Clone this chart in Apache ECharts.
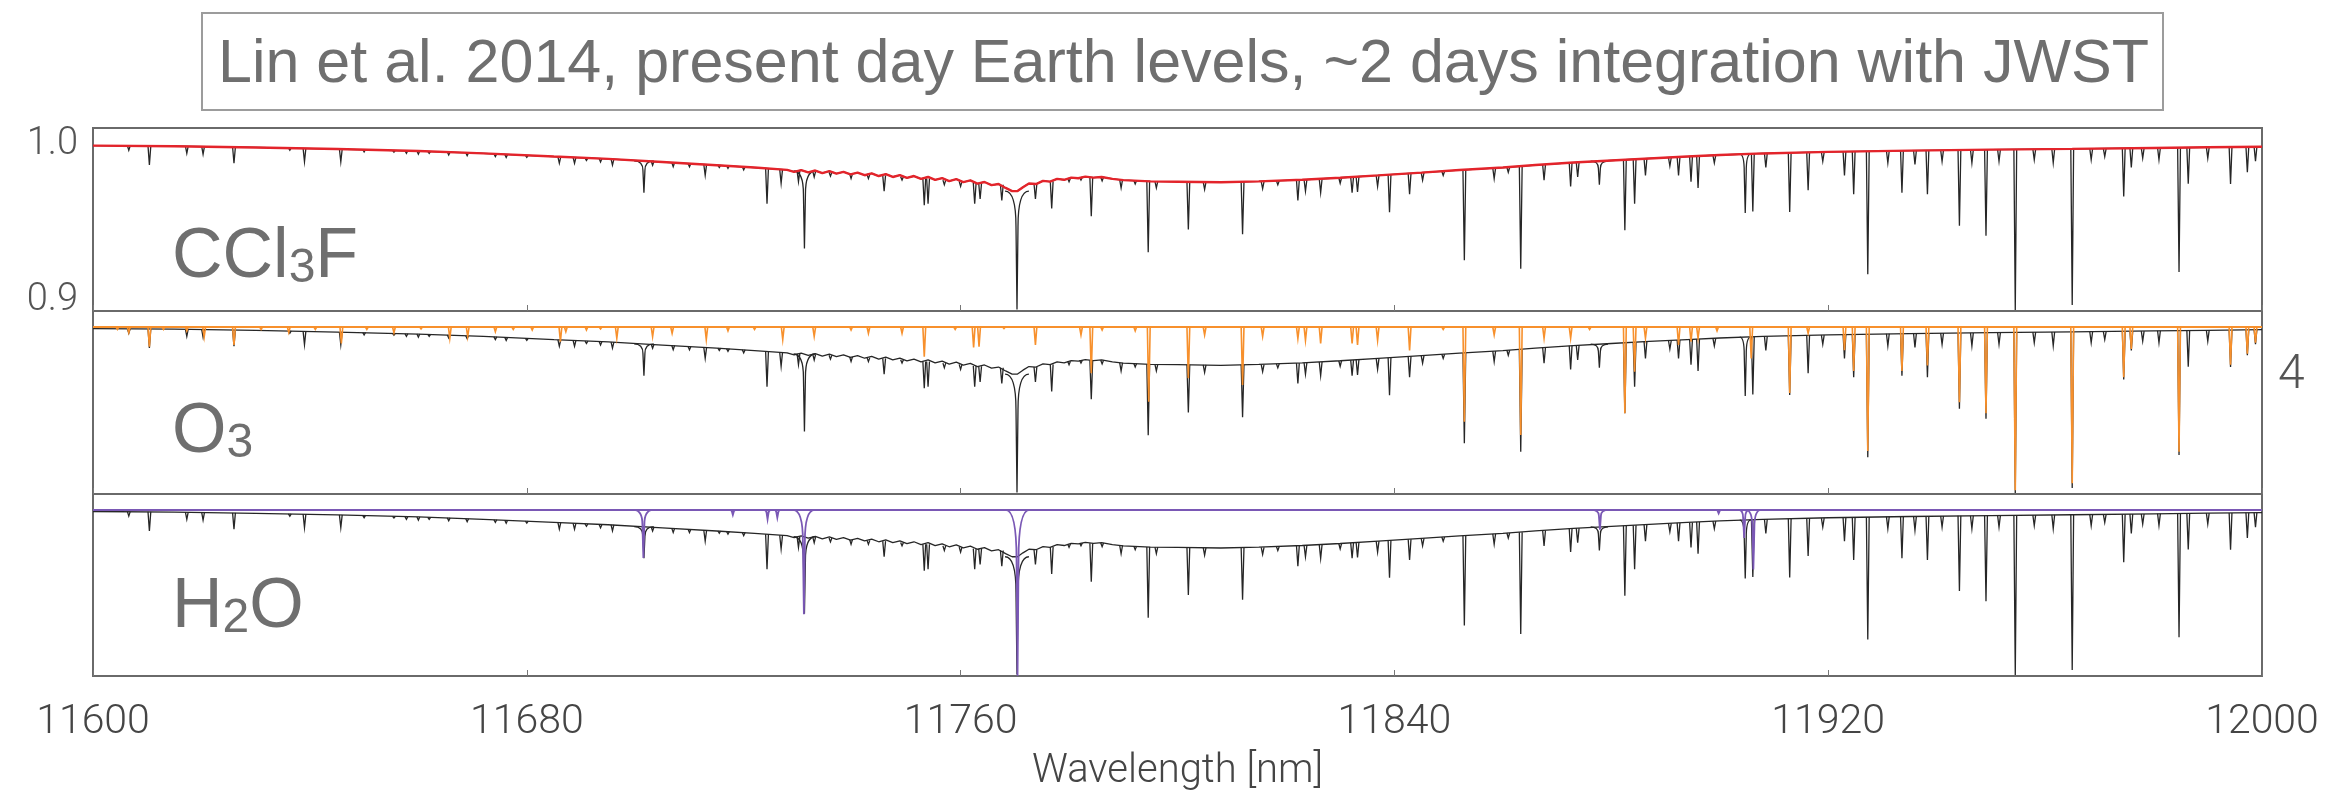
<!DOCTYPE html>
<html><head><meta charset="utf-8">
<script src="https://cdn.jsdelivr.net/npm/echarts@6/dist/echarts.min.js"></script>
<style>html,body{margin:0;padding:0;background:#fff}#c{width:2347px;height:793px}</style>
</head><body><div id="c"></div>
<script>
// ---------------- data ----------------
const titleText = 'Lin et al. 2014, present day Earth levels, ~2 days integration with JWST';
const xTicks = [11600, 11680, 11760, 11840, 11920, 12000];
const yTickLabels = [0.9, 1.0];
const xRange = [11600, 12000];
const yRange = [0.8936, 1.0102];
const figureNumber = '4';

// smooth continuum (CCl3F band shape, also the base of the total spectrum)
const continuum = [
[11600,0.9990],[11615,0.9986],[11630,0.9978],[11645,0.9968],[11660,0.9955],[11672,0.9940],
[11685,0.9920],[11695,0.9905],[11705,0.9885],[11715,0.9865],[11722,0.9850],[11728.0,0.9835],
[11729.3,0.9822],[11730.6,0.9834],[11731.9,0.9819],[11733.2,0.9831],[11734.5,0.9815],[11735.8,0.9827],
[11737.1,0.9811],[11738.4,0.9823],[11739.7,0.9806],[11741.0,0.9818],[11742.3,0.9801],[11743.6,0.9813],
[11744.9,0.9796],[11746.2,0.9808],[11747.5,0.9790],[11748.8,0.9802],[11750.1,0.9784],[11751.4,0.9796],
[11752.7,0.9778],[11754.0,0.9790],[11755.3,0.9771],[11756.6,0.9783],[11757.9,0.9764],[11759.2,0.9776],
[11760.5,0.9757],[11761.8,0.9768],[11763.1,0.9748],[11764.4,0.9758],[11765.7,0.9738],[11767.0,0.9745],
[11768.3,0.9720],[11769.5,0.9700],[11770.5,0.9700],[11771.5,0.9725],[11772.6,0.9748],[11773.9,0.9745],
[11775.2,0.9765],[11776.5,0.9760],[11777.8,0.9778],[11779.1,0.9772],[11780.4,0.9786],[11781.7,0.9782],
[11783.0,0.9792],[11784.5,0.9786],[11786.0,0.9790],[11788.0,0.9778],[11790.0,0.9770],[11795,0.9762],
[11800,0.9760],[11808,0.9756],[11815,0.9762],[11823,0.9772],[11830,0.9785],[11837,0.9800],
[11845,0.9818],[11852,0.9834],[11860,0.9850],[11866,0.9866],[11873,0.9882],[11880,0.9895],
[11887,0.9908],[11894,0.9920],[11900,0.9930],[11908,0.9940],[11920,0.9950],[11935,0.9958],
[11950,0.9964],[11965,0.9969],[11980,0.9975],[11990,0.9979],[12000,0.9983]
];

// narrow absorption lines of the total spectrum: [wavelength, continuum at line, line bottom]
const blackLines = [
[11606.6,0.9989,0.9960],[11610.4,0.9988,0.9866],[11617.3,0.9986,0.9940],[11620.3,0.9985,0.9935],
[11626.0,0.9981,0.9877],[11636.3,0.9975,0.9960],[11639.0,0.9974,0.9887],[11645.7,0.9968,0.9887],
[11650.0,0.9965,0.9950],[11655.5,0.9959,0.9948],[11657.8,0.9957,0.9940],[11660.0,0.9955,0.9935],
[11662.0,0.9953,0.9940],[11665.6,0.9949,0.9930],[11669.0,0.9944,0.9925],[11674.2,0.9937,0.9920],
[11676.2,0.9934,0.9915],[11680.0,0.9928,0.9915],[11686.0,0.9918,0.9877],[11688.8,0.9914,0.9877],
[11691.0,0.9910,0.9895],[11693.6,0.9907,0.9885],[11695.8,0.9904,0.9866],[11703.2,0.9890,0.9865],
[11707.0,0.9882,0.9855],[11710.0,0.9876,0.9855],[11712.9,0.9870,0.9800],[11715.5,0.9865,0.9850],
[11717.1,0.9862,0.9845],[11720.0,0.9855,0.9835],[11724.3,0.9845,0.9620],[11726.9,0.9838,0.9750],
[11730.1,0.9830,0.9760],[11733.0,0.9826,0.9790],[11736.0,0.9820,0.9795],[11739.8,0.9810,0.9780],
[11743.0,0.9805,0.9780],[11745.9,0.9800,0.9700],[11749.2,0.9792,0.9770],[11753.3,0.9780,0.9610],
[11754.0,0.9780,0.9620],[11757.0,0.9770,0.9740],[11760.0,0.9762,0.9730],[11762.6,0.9752,0.9620],
[11763.6,0.9750,0.9650],[11767.6,0.9740,0.9640],[11773.8,0.9745,0.9650],[11776.8,0.9762,0.9590],
[11780.0,0.9782,0.9760],[11782.2,0.9788,0.9770],[11784.1,0.9787,0.9540],[11786.1,0.9788,0.9765],
[11789.6,0.9772,0.9720],[11792.2,0.9768,0.9745],[11794.6,0.9763,0.9310],[11796.1,0.9762,0.9720],
[11802.0,0.9759,0.9455],[11805.0,0.9758,0.9710],[11812.0,0.9758,0.9425],[11815.7,0.9760,0.9715],
[11818.5,0.9765,0.9740],[11822.2,0.9770,0.9640],[11823.6,0.9772,0.9700],[11826.4,0.9777,0.9690],
[11830.0,0.9785,0.9750],[11832.2,0.9789,0.9690],[11833.2,0.9791,0.9695],[11836.9,0.9800,0.9730],
[11839.1,0.9804,0.9565],[11842.8,0.9812,0.9680],[11845.2,0.9818,0.9770],[11849.0,0.9826,0.9800],
[11852.9,0.9834,0.9260],[11858.4,0.9846,0.9780],[11861.0,0.9852,0.9820],[11863.3,0.9857,0.9205],
[11867.6,0.9868,0.9770],[11872.5,0.9881,0.9730],[11873.8,0.9883,0.9790],[11882.5,0.9899,0.9450],
[11884.3,0.9902,0.9620],[11886.3,0.9906,0.9800],[11890.8,0.9914,0.9860],[11892.4,0.9917,0.9800],
[11894.7,0.9920,0.9760],[11896.0,0.9922,0.9720],[11899.0,0.9928,0.9880],[11906.1,0.9937,0.9570],
[11908.5,0.9940,0.9850],[11912.9,0.9944,0.9567],[11916.3,0.9946,0.9705],[11919.0,0.9948,0.9890],
[11923.0,0.9952,0.9800],[11924.7,0.9953,0.9680],[11927.3,0.9955,0.9170],[11931.0,0.9957,0.9880],
[11933.6,0.9958,0.9690],[11936.0,0.9959,0.9870],[11938.3,0.9960,0.9680],[11941.0,0.9961,0.9890],
[11944.2,0.9962,0.9480],[11946.5,0.9963,0.9880],[11949.1,0.9964,0.9415],[11951.5,0.9965,0.9890],
[11954.5,0.9966,0.8942],[11958.0,0.9967,0.9900],[11961.5,0.9968,0.9880],[11965.0,0.9969,0.8975],
[11968.5,0.9970,0.9900],[11971.0,0.9971,0.9920],[11974.5,0.9972,0.9665],[11975.9,0.9973,0.9850],
[11978.0,0.9974,0.9910],[11981.0,0.9976,0.9900],[11984.7,0.9977,0.9185],[11986.4,0.9978,0.9747],
[11990.0,0.9979,0.9910],[11994.2,0.9980,0.9745],[11997.3,0.9982,0.9820],[11998.8,0.9983,0.9890]
];

// broad (pressure-broadened) features of the total spectrum: [wavelength, continuum, bottom, half width nm]
const blackBroad = [
[11701.6,0.9893,0.9690,1.8],[11731.2,0.9828,0.9335,2.0],[11770.4,0.9700,0.8945,2.2],
[11877.8,0.9891,0.9740,1.6],[11904.7,0.9935,0.9560,1.0]
];

// O3 contribution: flat level and lines [wavelength, bottom]
const o3Level = 1.0;
const o3Lines = [
[11604.5,0.9985],[11606.6,0.9965],[11610.4,0.9875],[11613.0,0.9985],[11617.3,0.9975],[11620.5,0.9935],
[11626.0,0.9885],[11631.0,0.9985],[11636.1,0.9965],[11641.0,0.9985],[11645.8,0.9896],[11650.5,0.9985],
[11655.5,0.9963],[11660.5,0.9988],[11665.8,0.9928],[11669.1,0.9938],[11674.2,0.9970],[11677.5,0.9985],
[11681.0,0.9980],[11686.2,0.9907],[11687.2,0.9970],[11691.0,0.9980],[11693.6,0.9988],[11696.6,0.9928],
[11703.2,0.9938],[11706.8,0.9960],[11713.1,0.9920],[11717.1,0.9975],[11722.0,0.9985],[11727.2,0.9920],
[11733.0,0.9940],[11739.8,0.9980],[11743.0,0.9960],[11749.2,0.9960],[11753.3,0.9810],[11759.0,0.9985],
[11762.4,0.9870],[11763.4,0.9875],[11768.0,0.9990],[11773.8,0.9885],[11782.2,0.9950],[11784.1,0.9705],
[11786.1,0.9980],[11792.2,0.9975],[11794.7,0.9524],[11802.0,0.9673],[11805.0,0.9950],[11812.0,0.9630],
[11815.7,0.9940],[11822.2,0.9926],[11823.6,0.9915],[11826.4,0.9896],[11832.2,0.9896],[11833.2,0.9885],
[11836.9,0.9915],[11842.8,0.9850],[11849.0,0.9985],[11852.9,0.9397],[11858.4,0.9950],[11863.3,0.9312],
[11867.6,0.9928],[11872.5,0.9928],[11876.0,0.9985],[11882.5,0.9450],[11884.3,0.9715],[11886.3,0.9928],
[11892.4,0.9885],[11894.7,0.9907],[11896.0,0.9928],[11899.5,0.9975],[11905.8,0.9800],[11912.9,0.9580],
[11916.3,0.9960],[11923.0,0.9853],[11924.7,0.9720],[11927.3,0.9210],[11933.6,0.9720],[11938.3,0.9755],
[11944.2,0.9520],[11949.1,0.9450],[11954.5,0.8960],[11965.0,0.9005],[11974.5,0.9680],[11975.9,0.9860],
[11984.7,0.9205],[11994.2,0.9760],[11997.3,0.9830],[11998.8,0.9900]
];

// H2O contribution: flat level and lines [wavelength, bottom, half width nm]
const h2oLevel = 1.0;
const h2oLines = [
[11701.5,0.9692,1.8],[11718.0,0.9968,0.8],[11724.4,0.9940,0.8],[11726.2,0.9950,0.8],
[11731.1,0.9331,2.0],[11770.5,0.8938,2.2],[11877.9,0.9873,1.6],[11899.8,0.9978,0.8],
[11904.5,0.9820,1.0],[11906.2,0.9618,1.4]
];

// ---------------- chart ----------------
const chart = echarts.init(document.getElementById('c'), null, {renderer: 'canvas', width: 2347, height: 793});

const COL = {black: '#262626', red: '#e3242b', orange: '#f7902c', purple: '#7a58b5', text: '#6f6f6f', axis: '#454545'};

function narrowItem(color, width, level) {
  return function (params, api) {
    const x = api.value(0);
    const top = level == null ? api.value(1) : level;
    const bot = level == null ? api.value(2) : api.value(1);
    const pT = api.coord([x, top]), pB = api.coord([x, bot]);
    const hw = 1.4;
    return {type: 'polyline', shape: {points: [[pT[0] - hw, pT[1]], [pB[0], pB[1]], [pT[0] + hw, pT[1]]]},
      style: {stroke: color, lineWidth: width, fill: null}};
  };
}
function broadItem(color, width, level) {
  return function (params, api) {
    const x = api.value(0);
    const top = level == null ? api.value(1) : level;
    const bot = level == null ? api.value(2) : api.value(1);
    const hwNm = level == null ? api.value(3) : api.value(2);
    const pT = api.coord([x, top]), pB = api.coord([x, bot]);
    const W = api.coord([x + hwNm, top])[0] - pT[0];
    const c = 1.0;
    const yM = pT[1] + 0.3 * (pB[1] - pT[1]);
    const d = 'M' + (pT[0] - W) + ' ' + pT[1] + ' Q' + (pT[0] - c) + ' ' + pT[1] + ' ' + (pT[0] - c) + ' ' + yM +
      ' L' + pB[0] + ' ' + pB[1] + ' L' + (pT[0] + c) + ' ' + yM + ' Q' + (pT[0] + c) + ' ' + pT[1] + ' ' + (pT[0] + W) + ' ' + pT[1];
    return {type: 'path', shape: {pathData: d}, style: {stroke: color, lineWidth: width, fill: null}};
  };
}

const grids = [0, 1, 2].map(i => ({left: 93, top: 128 + 183 * i, width: 2169, height: 183, show: true,
  borderColor: '#6a6a6a', borderWidth: 2, backgroundColor: '#fff'}));

const xAxes = [0, 1, 2].map(i => ({
  type: 'value', gridIndex: i, min: xRange[0], max: xRange[1], interval: xTicks[1] - xTicks[0],
  axisLine: {show: false}, splitLine: {show: false},
  axisTick: {show: true, inside: true, length: 6, lineStyle: {color: '#777'}},
  axisLabel: {show: i === 2, margin: 26, fontSize: 41, color: COL.axis, fontFamily: 'Roboto', fontWeight: 300,
    formatter: v => String(v)},
  name: i === 2 ? 'Wavelength [nm]' : '', nameLocation: 'middle', nameGap: 76,
  nameTextStyle: {fontSize: 40, color: COL.axis, fontFamily: 'Roboto', fontWeight: 300}
}));
const yAxes = [0, 1, 2].map(i => ({
  type: 'value', gridIndex: i, min: yRange[0], max: yRange[1],
  axisLine: {show: false}, splitLine: {show: false}, axisTick: {show: false},
  axisLabel: {show: i === 0, customValues: yTickLabels, formatter: v => v.toFixed(1), margin: 15,
    fontSize: 38, color: '#555', fontFamily: 'Roboto', fontWeight: 300}
}));

const series = [];
for (let i = 0; i < 3; i++) {
  series.push({type: 'line', xAxisIndex: i, yAxisIndex: i, data: continuum, showSymbol: false, z: 2,
    lineStyle: {color: COL.black, width: 1.3}, silent: true});
  series.push({type: 'custom', xAxisIndex: i, yAxisIndex: i, data: blackLines, clip: true, z: 2,
    encode: {x: 0, y: [1, 2]}, renderItem: narrowItem(COL.black, 1.3, null), silent: true});
  series.push({type: 'custom', xAxisIndex: i, yAxisIndex: i, data: blackBroad, clip: true, z: 2,
    encode: {x: 0, y: [1, 2]}, renderItem: broadItem(COL.black, 1.3, null), silent: true});
}
// CCl3F
series.push({type: 'line', xAxisIndex: 0, yAxisIndex: 0, data: continuum, showSymbol: false, z: 5,
  lineStyle: {color: COL.red, width: 2.4}, silent: true});
// O3
series.push({type: 'line', xAxisIndex: 1, yAxisIndex: 1, data: [[xRange[0], o3Level], [xRange[1], o3Level]],
  showSymbol: false, z: 5, lineStyle: {color: COL.orange, width: 2}, silent: true});
series.push({type: 'custom', xAxisIndex: 1, yAxisIndex: 1, data: o3Lines, clip: true, z: 5,
  encode: {x: 0, y: 1}, renderItem: narrowItem(COL.orange, 1.6, o3Level), silent: true});
// H2O
series.push({type: 'line', xAxisIndex: 2, yAxisIndex: 2, data: [[xRange[0], h2oLevel], [xRange[1], h2oLevel]],
  showSymbol: false, z: 5, lineStyle: {color: COL.purple, width: 2}, silent: true});
series.push({type: 'custom', xAxisIndex: 2, yAxisIndex: 2, data: h2oLines, clip: true, z: 5,
  encode: {x: 0, y: 1}, renderItem: broadItem(COL.purple, 1.8, h2oLevel), silent: true});

const labelRich = {
  m: {fontSize: 70, lineHeight: 70, color: COL.text, fontFamily: 'Liberation Sans', fontWeight: 'normal'},
  s: {fontSize: 48, lineHeight: 44, color: COL.text, fontFamily: 'Liberation Sans', fontWeight: 'normal', verticalAlign: 'bottom'}
};

chart.setOption({
  animation: false,
  backgroundColor: '#fff',
  title: [
    {text: titleText, left: 202, top: 13, padding: [22, 14, 14, 16], borderColor: '#9c9c9c', borderWidth: 2,
      backgroundColor: '#fff', z: 10,
      textStyle: {fontFamily: 'Liberation Sans', fontSize: 61, lineHeight: 61, fontWeight: 'normal', color: COL.text}},
    {text: '{m|CCl}{s|3}{m|F}', left: 172, top: 223, padding: 0, textStyle: {fontWeight: 'normal', rich: labelRich}},
    {text: '{m|O}{s|3}', left: 172, top: 398, padding: 0, textStyle: {fontWeight: 'normal', rich: labelRich}},
    {text: '{m|H}{s|2}{m|O}', left: 172, top: 573, padding: 0, textStyle: {fontWeight: 'normal', rich: labelRich}},
    {text: figureNumber, left: 2278, top: 352, padding: 0,
      textStyle: {fontFamily: 'Roboto', fontWeight: 300, fontSize: 48, color: '#555'}}
  ],
  grid: grids,
  xAxis: xAxes,
  yAxis: yAxes,
  series: series
});
</script>
</body></html>
